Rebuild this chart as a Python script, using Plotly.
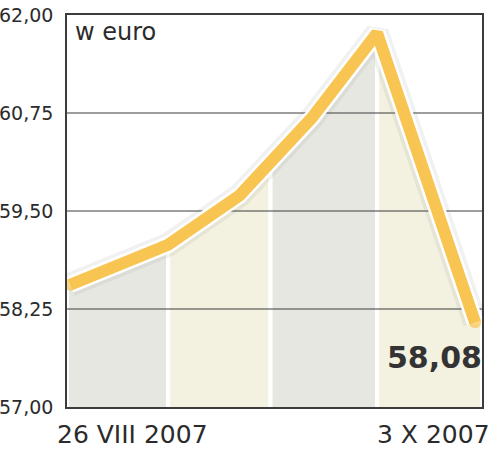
import plotly.graph_objects as go

# days since 26 VIII 2007 and closing price in euro
days = [0, 9.2, 15.9, 18.8, 22.7, 28.8, 38]
price = [58.56, 59.07, 59.70, 60.10, 60.69, 61.77, 58.08]
band_edges = [0, 1, 3, 5, 6]  # indexes into days where the shaded columns change
band_colors = ["#E7E7E2", "#F3F1E0", "#E7E7E2", "#F3F1E0"]

y_ticks = [57.0, 58.25, 59.5, 60.75, 62.0]
y_labels = ["57,00", "58,25", "59,50", "60,75", "62,00"]
x_labels = ["26 VIII 2007", "3 X 2007"]
last_label = "58,08"

x_range = [-0.3, 38.65]
y_range = [57, 62]
ink = "#2b2b2b"
font = "DejaVu Sans"

fig = go.Figure()

# shaded columns under the line
for i in range(len(band_edges) - 1):
    a, b = band_edges[i], band_edges[i + 1]
    xs = days[a:b + 1]
    ys = price[a:b + 1]
    if i == 0:
        xs = [x_range[0]] + xs
        ys = [ys[0]] + ys
    if i == len(band_edges) - 2:
        xs = xs + [x_range[1]]
        ys = ys + [ys[-1]]
    base = y_range[0] - 0.2
    fig.add_trace(go.Scatter(
        x=[xs[0]] + xs + [xs[-1], xs[0]],
        y=[base] + ys + [base, base],
        mode="lines", fill="toself", fillcolor=band_colors[i],
        line=dict(color="white", width=4), hoverinfo="skip"))

# gridlines above the columns, below the line
for t in y_ticks[1:-1]:
    fig.add_trace(go.Scatter(x=x_range, y=[t, t], mode="lines",
                             line=dict(color="#3c3c3c", width=1.2), hoverinfo="skip"))

# soft shadow, white halo, yellow line
fig.add_trace(go.Scatter(x=days, y=price, mode="lines",
                         line=dict(color="rgba(120,120,120,0.10)", width=24), hoverinfo="skip"))
fig.add_trace(go.Scatter(x=days, y=price, mode="lines",
                         line=dict(color="white", width=17), hoverinfo="skip"))
ends = [12 if i in (0, len(days) - 1) else 0 for i in range(len(days))]
fig.add_trace(go.Scatter(x=days, y=price, mode="lines+markers",
                         line=dict(color="#F8C552", width=12),
                         marker=dict(color="#F8C552", size=ends, line=dict(width=0))))

fig.add_annotation(x=0.0, y=1.0, xref="paper", yref="paper", text="w euro",
                   showarrow=False, xanchor="left", yanchor="top", xshift=6, yshift=-1,
                   font=dict(family=font, size=24, color=ink))
fig.add_annotation(x=days[-1], y=price[-1], text=last_label, showarrow=False,
                   xanchor="right", yanchor="top", xshift=9, yshift=-16,
                   font=dict(family=font, size=30, color="#333333", weight="bold"))
fig.add_annotation(x=0.159, y=0, xref="paper", yref="paper", text=x_labels[0],
                   showarrow=False, xanchor="center", yanchor="middle", yshift=-27,
                   font=dict(family=font, size=25, color=ink))
fig.add_annotation(x=0.882, y=0, xref="paper", yref="paper", text=x_labels[1],
                   showarrow=False, xanchor="center", yanchor="middle", yshift=-27,
                   font=dict(family=font, size=25, color=ink))

fig.update_layout(
    width=500, height=451,
    margin=dict(l=67, r=18, t=15, b=44, autoexpand=False),
    paper_bgcolor="white", plot_bgcolor="white",
    showlegend=False,
    xaxis=dict(range=x_range, showgrid=False, zeroline=False, showticklabels=False,
               showline=True, linecolor="#3c3c3c", linewidth=1.5, mirror=True, ticks="",
               automargin=False),
    yaxis=dict(range=y_range, tickvals=y_ticks, ticktext=y_labels, showgrid=False,
               zeroline=False, showline=True, linecolor="#3c3c3c", linewidth=1.5,
               mirror=True, ticks="", ticklabelstandoff=8, automargin=False,
               tickfont=dict(family=font, size=19, color=ink)),
)

# drop the browser's default 8px body margin so the figure fills the window
fig.write_html("out.html", config={"displayModeBar": False},
               post_script="document.body.style.margin = '0';")
